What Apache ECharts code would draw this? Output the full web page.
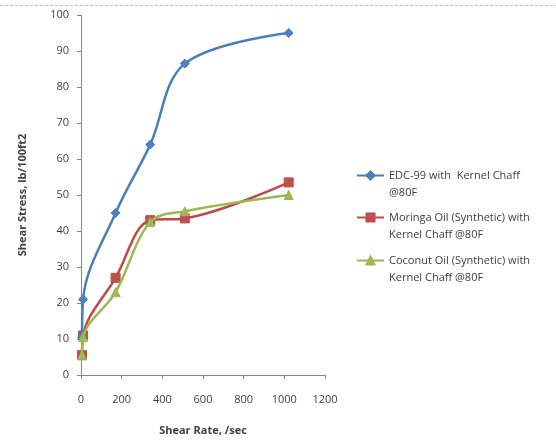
<!DOCTYPE html>
<html>
<head>
<meta charset="utf-8">
<script src="https://cdn.jsdelivr.net/npm/echarts@6/dist/echarts.min.js"></script>
<style>
  html, body { margin: 0; padding: 0; background: #ffffff; }
  #chart { width: 556px; height: 441px; }
</style>
</head>
<body>
<div id="chart"></div>
<script>
// Shear rates (1/sec) for viscometer readings
var shearRate = [5.1, 10.2, 170.2, 340.5, 510.7, 1021.4];

// Shear stress readings, lb/100ft2
var edc99 = [10.5, 21, 45, 64, 86.5, 95];
var moringa = [5.5, 11, 27, 43, 43.5, 53.5];
var coconut = [5.5, 10.5, 23, 42.5, 45.5, 50];

var seriesNames = [
  'EDC-99 with  Kernel Chaff\n@80F',
  'Moringa Oil (Synthetic) with\nKernel Chaff @80F',
  'Coconut Oil (Synthetic) with\nKernel Chaff @80F'
];

var xTicks = [0, 200, 400, 600, 800, 1000, 1200];
var yTicks = [0, 10, 20, 30, 40, 50, 60, 70, 80, 90, 100];

function pairs(xs, ys) {
  return xs.map(function (x, i) { return [x, ys[i]]; });
}

var font = '"Open Sans", "Liberation Sans", sans-serif';
var textColor = '#404040';
var axisColor = '#868686';

var chart = echarts.init(document.getElementById('chart'), null, { renderer: 'canvas' });

// One legend block per series so each two-line label sits with its
// first line beside the swatch.
function legendAt(name, top) {
  return {
    data: [name],
    left: 351,
    top: top,
    orient: 'vertical',
    itemWidth: 27,
    itemHeight: 10,
    itemGap: 0,
    selectedMode: false,
    formatter: function (n) { return '\n' + n; },
    textStyle: {
      fontFamily: font,
      fontSize: 11,
      color: textColor,
      lineHeight: 17
    }
  };
}

var option = {
  animation: false,
  backgroundColor: '#ffffff',
  grid: { left: 81, top: 15, width: 244, height: 361, containLabel: false },
  legend: [
    legendAt(seriesNames[0], 145),
    legendAt(seriesNames[1], 187),
    legendAt(seriesNames[2], 230)
  ],
  xAxis: {
    type: 'value',
    min: 0, max: 1200, interval: 200,
    name: 'Shear Rate, /sec',
    nameLocation: 'middle',
    nameGap: 50,
    nameTextStyle: { fontFamily: font, fontSize: 11, fontWeight: 'bold', color: textColor },
    axisLine: { show: true, lineStyle: { color: axisColor, width: 1 } },
    axisTick: { show: true, length: 4, lineStyle: { color: axisColor } },
    axisLabel: {
      fontFamily: font, fontSize: 11, color: textColor, margin: 19,
      formatter: function (v) { return xTicks.indexOf(v) >= 0 ? String(v) : ''; }
    },
    splitLine: { show: false }
  },
  yAxis: {
    type: 'value',
    min: 0, max: 100, interval: 10,
    name: 'Shear Stress, lb/100ft2',
    nameLocation: 'middle',
    nameGap: 53,
    nameRotate: 90,
    nameTextStyle: { fontFamily: font, fontSize: 11, fontWeight: 'bold', color: textColor },
    axisLine: { show: true, lineStyle: { color: axisColor, width: 1 } },
    axisTick: { show: true, length: 4, lineStyle: { color: axisColor } },
    axisLabel: {
      fontFamily: font, fontSize: 11, color: textColor, margin: 12,
      formatter: function (v) { return yTicks.indexOf(v) >= 0 ? String(v) : ''; }
    },
    splitLine: { show: false }
  },
  series: [
    {
      name: seriesNames[0], type: 'line', smooth: 0.35,
      data: pairs(shearRate, edc99),
      symbol: 'diamond', symbolSize: 9,
      lineStyle: { color: '#4a7ebb', width: 2.5 },
      itemStyle: { color: '#4f81bd', borderColor: '#4a7ebb', borderWidth: 1 },
      emphasis: { disabled: true }, z: 3
    },
    {
      name: seriesNames[1], type: 'line', smooth: 0.35,
      data: pairs(shearRate, moringa),
      symbol: 'rect', symbolSize: 9,
      lineStyle: { color: '#be4b48', width: 2.5 },
      itemStyle: { color: '#c0504d', borderColor: '#be4b48', borderWidth: 1 },
      emphasis: { disabled: true }, z: 2
    },
    {
      name: seriesNames[2], type: 'line', smooth: 0.35,
      data: pairs(shearRate, coconut),
      symbol: 'triangle', symbolSize: 9,
      lineStyle: { color: '#98b954', width: 2.5 },
      itemStyle: { color: '#9bbb59', borderColor: '#98b954', borderWidth: 1 },
      emphasis: { disabled: true }, z: 4
    }
  ],
  graphic: [
    {
      type: 'line',
      shape: { x1: 0, y1: 5.5, x2: 556, y2: 5.5 },
      style: { stroke: '#a8c4ee', lineWidth: 1, lineDash: [3, 2] },
      silent: true
    }
  ]
};

chart.setOption(option);
</script>
</body>
</html>
